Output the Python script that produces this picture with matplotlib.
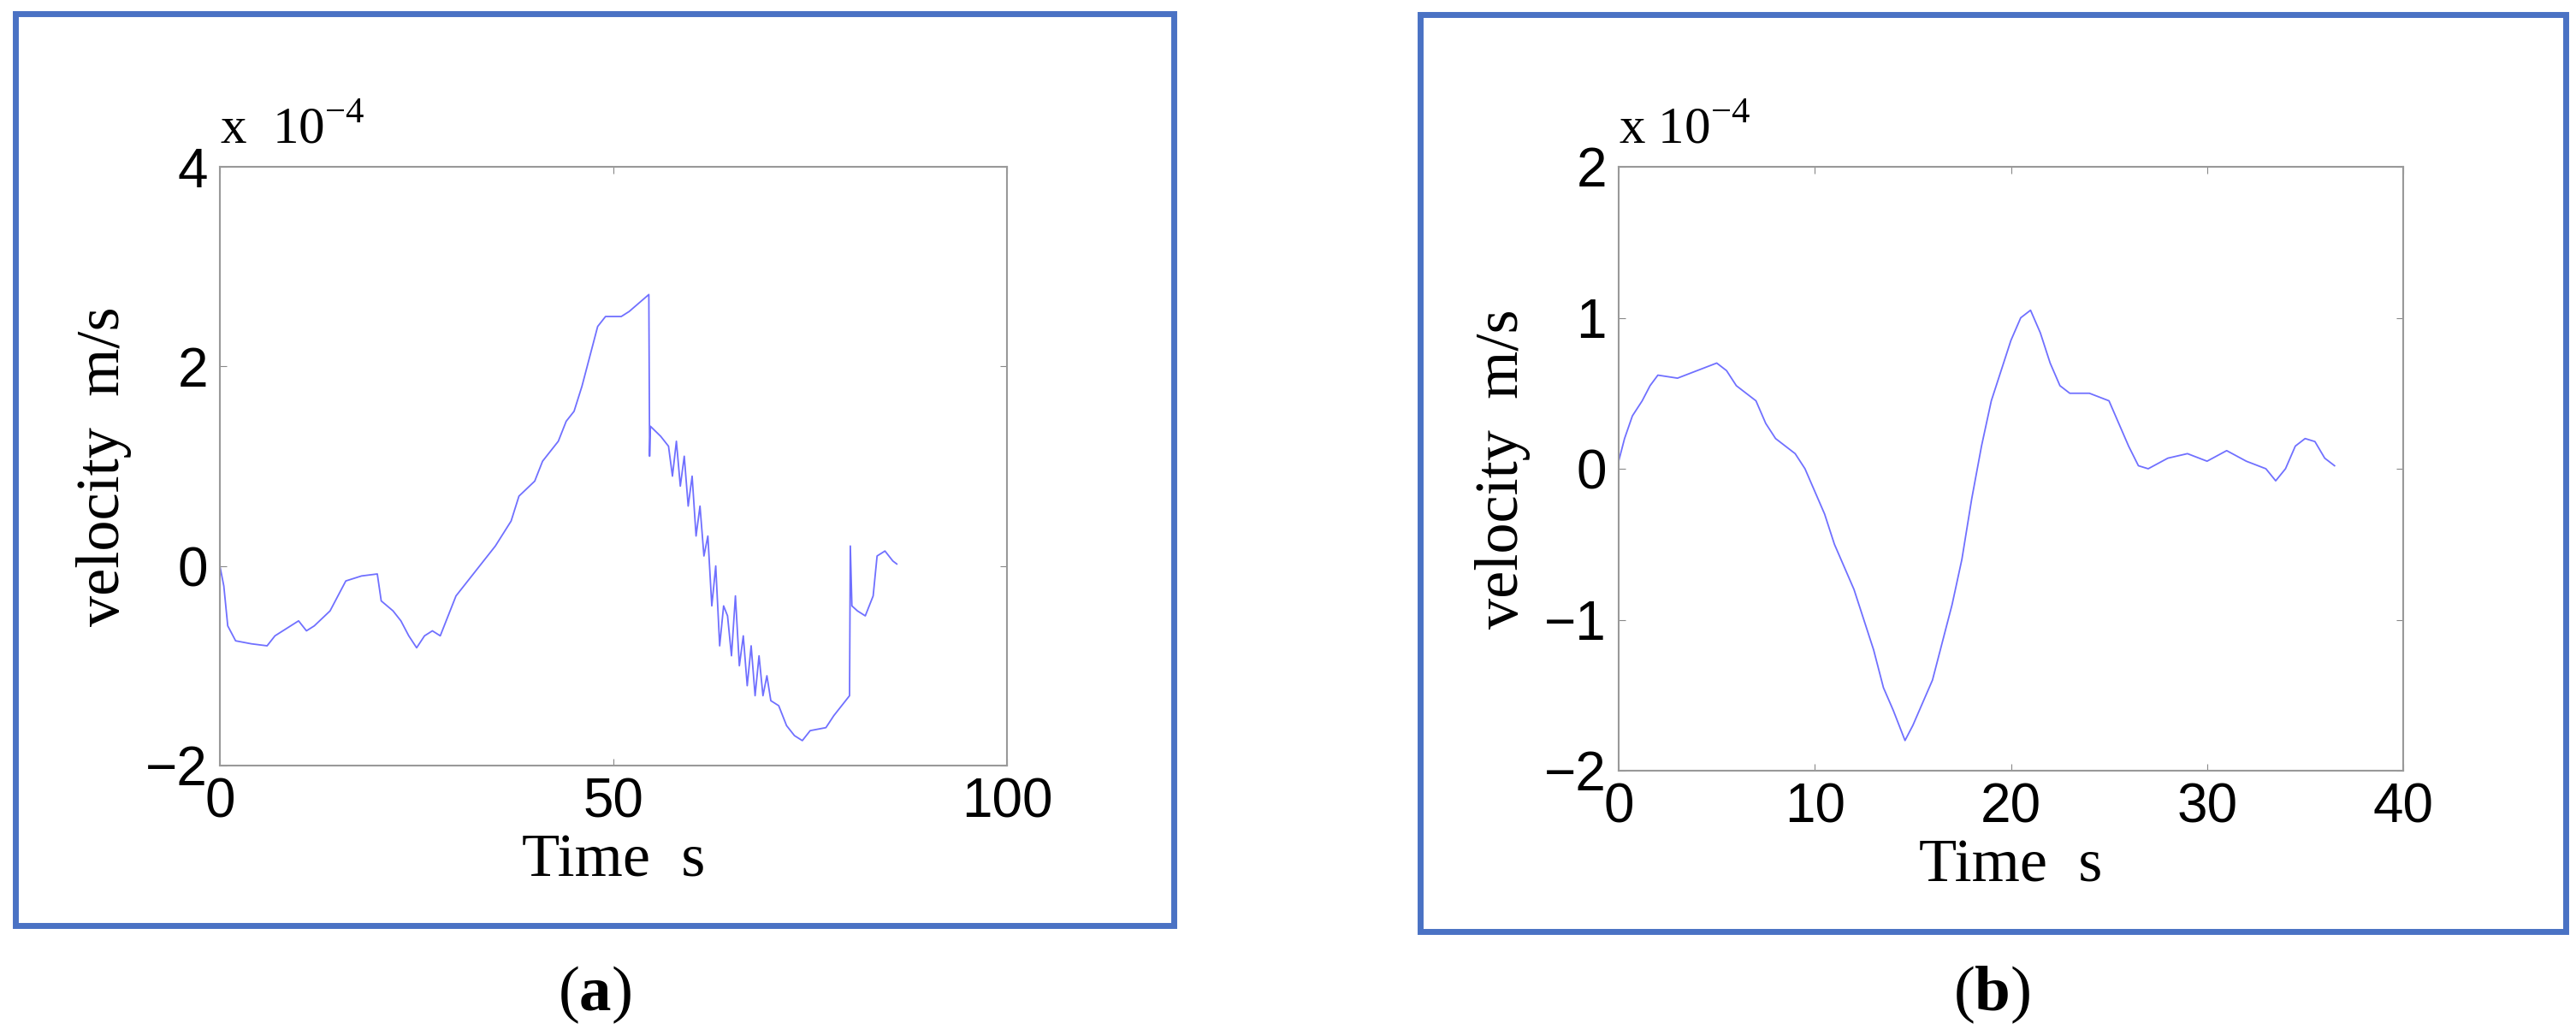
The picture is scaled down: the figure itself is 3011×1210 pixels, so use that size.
import matplotlib
matplotlib.use("Agg")
import matplotlib.pyplot as plt
from matplotlib import font_manager
from matplotlib.patches import Rectangle

# ---------------------------
# data (velocity in 1e-4 m/s)
# ---------------------------
t_a = [0, 0.5, 1, 2, 4, 6, 7, 9, 10, 11, 12, 14, 15, 16, 18, 20, 20.5, 22, 23, 24, 25,
       26, 27, 28, 29, 30, 31, 33, 35, 37, 38, 40, 41, 43, 44, 45, 46, 47, 48, 49, 51,
       52, 54.5, 54.6, 54.7, 56, 57, 57.5, 58, 58.5, 59, 59.5, 60, 60.5, 61, 61.5, 62,
       62.5, 63, 63.5, 64, 64.5, 65, 65.5, 66, 66.5, 67, 67.5, 68, 68.5, 69, 69.5, 70,
       71, 72, 73, 74, 75, 77, 78, 79, 80, 80.1, 80.3, 81, 82, 83, 83.5, 84.5, 85.5, 86]
v_a = [0, -0.2, -0.6, -0.75, -0.78, -0.8, -0.7, -0.6, -0.55, -0.65, -0.6, -0.45, -0.3,
       -0.15, -0.1, -0.08, -0.35, -0.45, -0.55, -0.7, -0.82, -0.7, -0.65, -0.7, -0.5,
       -0.3, -0.2, 0.0, 0.2, 0.45, 0.7, 0.85, 1.05, 1.25, 1.45, 1.55, 1.8, 2.1, 2.4,
       2.5, 2.5, 2.55, 2.72, 1.1, 1.4, 1.3, 1.2, 0.9, 1.25, 0.8, 1.1, 0.6, 0.9, 0.3,
       0.6, 0.1, 0.3, -0.4, 0.0, -0.8, -0.4, -0.5, -0.9, -0.3, -1.0, -0.7, -1.2, -0.8,
       -1.3, -0.9, -1.3, -1.1, -1.35, -1.4, -1.6, -1.7, -1.75, -1.65, -1.62, -1.5,
       -1.4, -1.3, 0.2, -0.4, -0.45, -0.5, -0.3, 0.1, 0.15, 0.05, 0.02]

t_b = [0, 0.3, 0.7, 1.2, 1.6, 2, 3, 4, 5, 5.5, 6, 7, 7.5, 8, 9, 9.5, 10, 10.5, 11, 12,
       12.5, 13, 13.5, 14, 14.6, 15, 15.5, 16, 17, 17.5, 18, 18.5, 19, 19.5, 20, 20.5,
       21, 21.5, 22, 22.5, 23, 24, 25, 25.5, 26, 26.5, 27, 28, 29, 30, 31, 32, 33,
       33.5, 34, 34.5, 35, 35.5, 36, 36.5]
v_b = [0.05, 0.2, 0.35, 0.45, 0.55, 0.62, 0.6, 0.65, 0.7, 0.65, 0.55, 0.45, 0.3, 0.2,
       0.1, 0.0, -0.15, -0.3, -0.5, -0.8, -1.0, -1.2, -1.45, -1.6, -1.8, -1.7, -1.55,
       -1.4, -0.9, -0.6, -0.2, 0.15, 0.45, 0.65, 0.85, 1.0, 1.05, 0.9, 0.7, 0.55, 0.5,
       0.5, 0.45, 0.3, 0.15, 0.02, 0.0, 0.07, 0.1, 0.05, 0.12, 0.05, 0.0, -0.08, 0.0,
       0.15, 0.2, 0.18, 0.07, 0.02]

LINE = "#7070ff"
FRAME = "#4a72c4"
LABFONT = "Liberation Serif"
# narrow sans if available, plain otherwise
names = {f.name for f in font_manager.fontManager.ttflist}
TICKFONT = "Liberation Sans Narrow" if "Liberation Sans Narrow" in names else "Liberation Sans"

plt.rcParams["mathtext.fontset"] = "custom"
plt.rcParams["mathtext.rm"] = "Liberation Serif"
plt.rcParams["mathtext.bf"] = "Liberation Serif:bold"

fig = plt.figure(figsize=(30.11, 12.10), dpi=100)
W, H = 3011, 1210


def box(x0, y0, x1, y1):
    # pixel coords, top-left origin -> figure fraction
    return [x0 / W, 1 - y1 / H, (x1 - x0) / W, (y1 - y0) / H]


def panel(rect, frame, t, v, xlim, xticks, ylim, yticks, cap, capx, mult):
    fx0, fy0, fx1, fy1 = frame
    fig.patches.append(Rectangle((fx0 / W, 1 - fy1 / H), (fx1 - fx0) / W, (fy1 - fy0) / H,
                                 transform=fig.transFigure, fill=False,
                                 edgecolor=FRAME, linewidth=5))
    ax = fig.add_axes(box(*rect))
    ax.plot(t, v, color=LINE, linewidth=1.3)
    ax.set_xlim(*xlim)
    ax.set_ylim(*ylim)
    ax.set_xticks(xticks)
    ax.set_yticks(yticks)
    ax.set_xticklabels([str(x) for x in xticks], fontfamily=TICKFONT, fontsize=46)
    ax.set_yticklabels([str(y).replace("-", "\u2212") for y in yticks],
                       fontfamily=TICKFONT, fontsize=46)
    ax.tick_params(direction="in", length=6, color="#888888", top=True, right=True, pad=10)
    for s in ax.spines.values():
        s.set_color("#999999")
        s.set_linewidth(1.5)
    ax.set_xlabel("Time  s", fontfamily=LABFONT, fontsize=52, labelpad=4)
    ax.set_ylabel("velocity  m/s", fontfamily=LABFONT, fontsize=52, labelpad=12)
    ax.text(0.0, 1.02, mult, transform=ax.transAxes, fontfamily=LABFONT,
            fontsize=44, ha="left", va="bottom")
    fig.text(capx / W, 1 - 1163 / H, r"($\mathbf{" + cap + "}$)", fontfamily=LABFONT,
             fontsize=54, ha="center", va="center")
    return ax


ax_a = panel((257, 195, 1177, 895), (18, 16, 1372, 1082), t_a, v_a,
             (0, 100), [0, 50, 100], (-2, 4), [-2, 0, 2, 4], "a", 695, r"x  $10^{-4}$")
ax_b = panel((1892, 195, 2809, 901), (1660, 17, 2999, 1089), t_b, v_b,
             (0, 40), [0, 10, 20, 30, 40], (-2, 2), [-2, -1, 0, 1, 2], "b", 2328,
             r"x $10^{-4}$")

fig.savefig("out.png", dpi=100, facecolor="white")
